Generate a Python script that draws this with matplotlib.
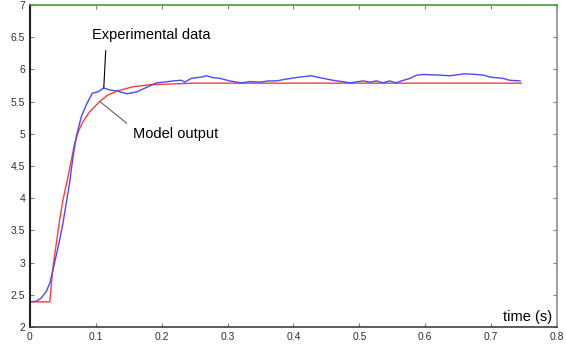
import matplotlib
matplotlib.use("Agg")
import matplotlib.pyplot as plt

matplotlib.rcParams.update({'font.family': 'Liberation Sans', 'font.size': 8})

# experimental data (blue)
t_exp = [0.0, 0.0096, 0.017, 0.0247, 0.030, 0.035, 0.040, 0.045, 0.050, 0.055,
         0.060, 0.065, 0.0703, 0.078, 0.0855, 0.0946, 0.103, 0.112, 0.121, 0.134,
         0.147, 0.162, 0.177, 0.192, 0.202, 0.2175, 0.230, 0.235, 0.245, 0.2605,
         0.268, 0.278, 0.288, 0.303, 0.321, 0.334, 0.349, 0.362, 0.374, 0.390,
         0.410, 0.427, 0.440, 0.460, 0.486, 0.506, 0.516, 0.526, 0.536, 0.546,
         0.556, 0.564, 0.577, 0.587, 0.597, 0.622, 0.637, 0.660, 0.678, 0.688,
         0.698, 0.718, 0.728, 0.744]
y_exp = [2.39, 2.40, 2.45, 2.55, 2.68, 2.89, 3.12, 3.35, 3.61, 3.92,
         4.23, 4.62, 4.96, 5.27, 5.45, 5.63, 5.65, 5.71, 5.68, 5.66,
         5.62, 5.65, 5.72, 5.79, 5.80, 5.82, 5.83, 5.80, 5.86, 5.88,
         5.90, 5.87, 5.86, 5.82, 5.79, 5.81, 5.80, 5.82, 5.82, 5.85,
         5.88, 5.90, 5.87, 5.83, 5.79, 5.82, 5.80, 5.82, 5.79, 5.82,
         5.79, 5.82, 5.86, 5.91, 5.92, 5.91, 5.90, 5.93, 5.92, 5.91,
         5.88, 5.86, 5.83, 5.82]

# model output (red)
t_mod = [0.0, 0.030, 0.035, 0.040, 0.045, 0.050, 0.0566, 0.062, 0.0678, 0.074,
         0.080, 0.0905, 0.1057, 0.118, 0.134, 0.157, 0.182, 0.208, 0.25, 0.746]
y_mod = [2.39, 2.39, 2.94, 3.30, 3.66, 3.97, 4.28, 4.55, 4.85, 5.05,
         5.18, 5.34, 5.50, 5.60, 5.67, 5.73, 5.76, 5.77, 5.785, 5.785]

# upper level (green)
t_top = [0.0, 0.8]
y_top = [7.0, 7.0]

xticks = [0, 0.1, 0.2, 0.3, 0.4, 0.5, 0.6, 0.7, 0.8]
xlabels = ['0', '0.1', '0.2', '0.3', '0.4', '0.5', '0.6', '0.7', '0.8']
yticks = [2, 2.5, 3, 3.5, 4, 4.5, 5, 5.5, 6, 6.5, 7]
ylabels = ['2', '2.5', '3', '3.5', '4', '4.5', '5', '5.5', '6', '6.5', '7']

fig = plt.figure(figsize=(5.66, 3.49), dpi=100)
ax = fig.add_axes([0.053, 0.063, 0.931, 0.923])

ax.plot(t_top, y_top, color='#40a040', lw=1.2, clip_on=False, zorder=5)
ax.plot(t_mod, y_mod, color='#ff3a3a', lw=1)
ax.plot(t_exp, y_exp, color='#4a4aff', lw=1)

ax.set_xlim(0, 0.8)
ax.set_ylim(2, 7)
ax.set_xticks(xticks)
ax.set_xticklabels(xlabels)
ax.set_yticks(yticks)
ax.set_yticklabels(ylabels)
ax.tick_params(direction='in', length=3, color='#808080', labelcolor='#303030',
               labelsize=7.5, top=True, right=True)

ax.spines['top'].set_visible(False)
ax.spines['left'].set_color('#202020')
ax.spines['left'].set_linewidth(1.5)
ax.spines['bottom'].set_color('#404040')
ax.spines['bottom'].set_linewidth(1.2)
ax.spines['right'].set_color('#909090')
ax.spines['right'].set_linewidth(1.2)

ax.annotate('Experimental data', xy=(0.112, 5.71), xytext=(0.094, 6.42),
            ha='left', va='bottom', fontsize=10.5,
            arrowprops=dict(arrowstyle='-', color='black', lw=0.8, shrinkA=4, shrinkB=0,
                            relpos=(0.12, 0)))
ax.annotate('Model output', xy=(0.106, 5.50), xytext=(0.156, 5.0),
            ha='left', va='center', fontsize=10.5,
            arrowprops=dict(arrowstyle='-', color='#606060', lw=0.8, shrinkA=3, shrinkB=0,
                            relpos=(0, 0.9)))
ax.text(0.793, 2.05, 'time (s)', ha='right', va='bottom', fontsize=10.5)

plt.savefig('out.png', dpi=100)
